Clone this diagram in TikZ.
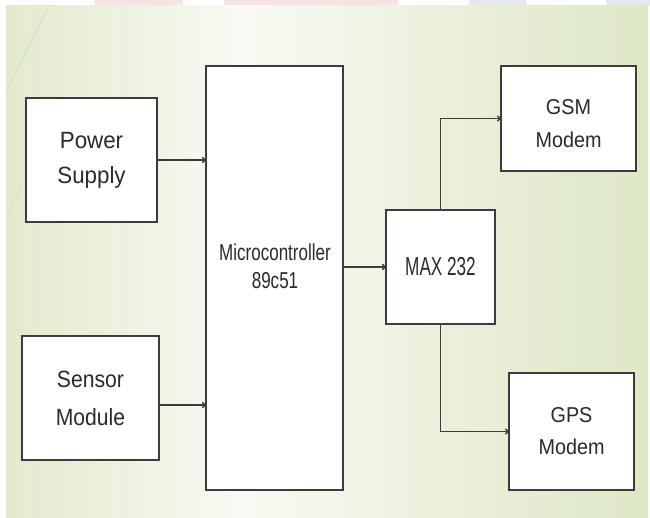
\documentclass[tikz,border=0pt]{standalone}
\usepackage{fontspec}
\setmainfont{Liberation Sans}
\usetikzlibrary{arrows.meta}
\definecolor{bgL}{HTML}{E2EACD}
\definecolor{bgM}{HTML}{F8FAF3}
\definecolor{bgR}{HTML}{DEE7C6}
\definecolor{lnc}{HTML}{3C3C3C}
\definecolor{txc}{HTML}{2A2A2A}
\definecolor{decoP}{HTML}{F6E3E4}
\definecolor{decoB}{HTML}{E6E8EF}
\definecolor{decoL}{HTML}{D3DCBD}
\newcommand{\tf}[3]{\addfontfeatures{FakeStretch=#1}\fontsize{#2}{#3}\selectfont}
\tikzset{
  box/.style={draw=lnc, line width=1.4pt, fill=white, inner sep=0pt, outer sep=0pt, align=center, text=txc},
  txt/.style={inner sep=0pt, align=center, text=txc},
  arr/.style={draw=lnc, line width=1.4pt, -{To[length=4pt,width=6pt]}},
}
\begin{document}
\begin{tikzpicture}[x=1pt,y=-1pt]
\useasboundingbox (0,0) rectangle (650,518);
\fill[white] (0,0) rectangle (650,518);
% faint top decorations
\fill[decoP] (95,0) rectangle (183,6);
\fill[decoP] (224,0) rectangle (398,6);
\fill[decoB] (469,0) rectangle (527,6);
\fill[decoB] (606,0) rectangle (650,6);
% background gradient
\shade[left color=bgL, right color=bgM] (6,6) rectangle (240,517);
\shade[left color=bgM, right color=bgR] (240,6) rectangle (648,517);
\draw[decoL, line width=0.6pt] (48,8) -- (6,92);
\draw[decoL, line width=0.6pt] (22,186) -- (6,218);
% boxes
\node[box, minimum width=131pt, minimum height=124pt, font=\tf{0.95}{23.5}{35}] (ps) at (91.5,160) {Power\\Supply};
\node[box, minimum width=137pt, minimum height=124pt, font=\tf{0.9}{23.5}{38}] (sm) at (90.5,398) {Sensor\\Module};
\node[box, minimum width=137pt, minimum height=424pt] (mc) at (274.5,278) {};
\node[txt, font=\tf{0.74}{23}{28}] (mct) at (275,266) {Microcontroller\\89c51};
\node[box, minimum width=109pt, minimum height=114pt, font=\tf{0.66}{26}{30}] (mx) at (440.5,267) {MAX 232};
\node[box, minimum width=135pt, minimum height=105pt] (gsm) at (568.5,118.5) {};
\node[txt, font=\tf{0.92}{21.5}{33}] (gsmt) at (568.5,123.5) {GSM\\Modem};
\node[box, minimum width=125pt, minimum height=117pt, font=\tf{0.92}{21.5}{32}] (gps) at (571.5,431.5) {GPS\\Modem};
% connectors
\draw[arr] (ps.east) -- (ps.east -| mc.west);
\draw[arr] ([yshift=-7pt]sm.east) -- ([yshift=-7pt]sm.east -| mc.west);
\draw[arr] (mx.west -| mc.east) -- (mx.west);
\draw[arr] (mx.north) |- (gsm.west);
\draw[arr] (mx.south) |- (gps.west);
\end{tikzpicture}
\end{document}
